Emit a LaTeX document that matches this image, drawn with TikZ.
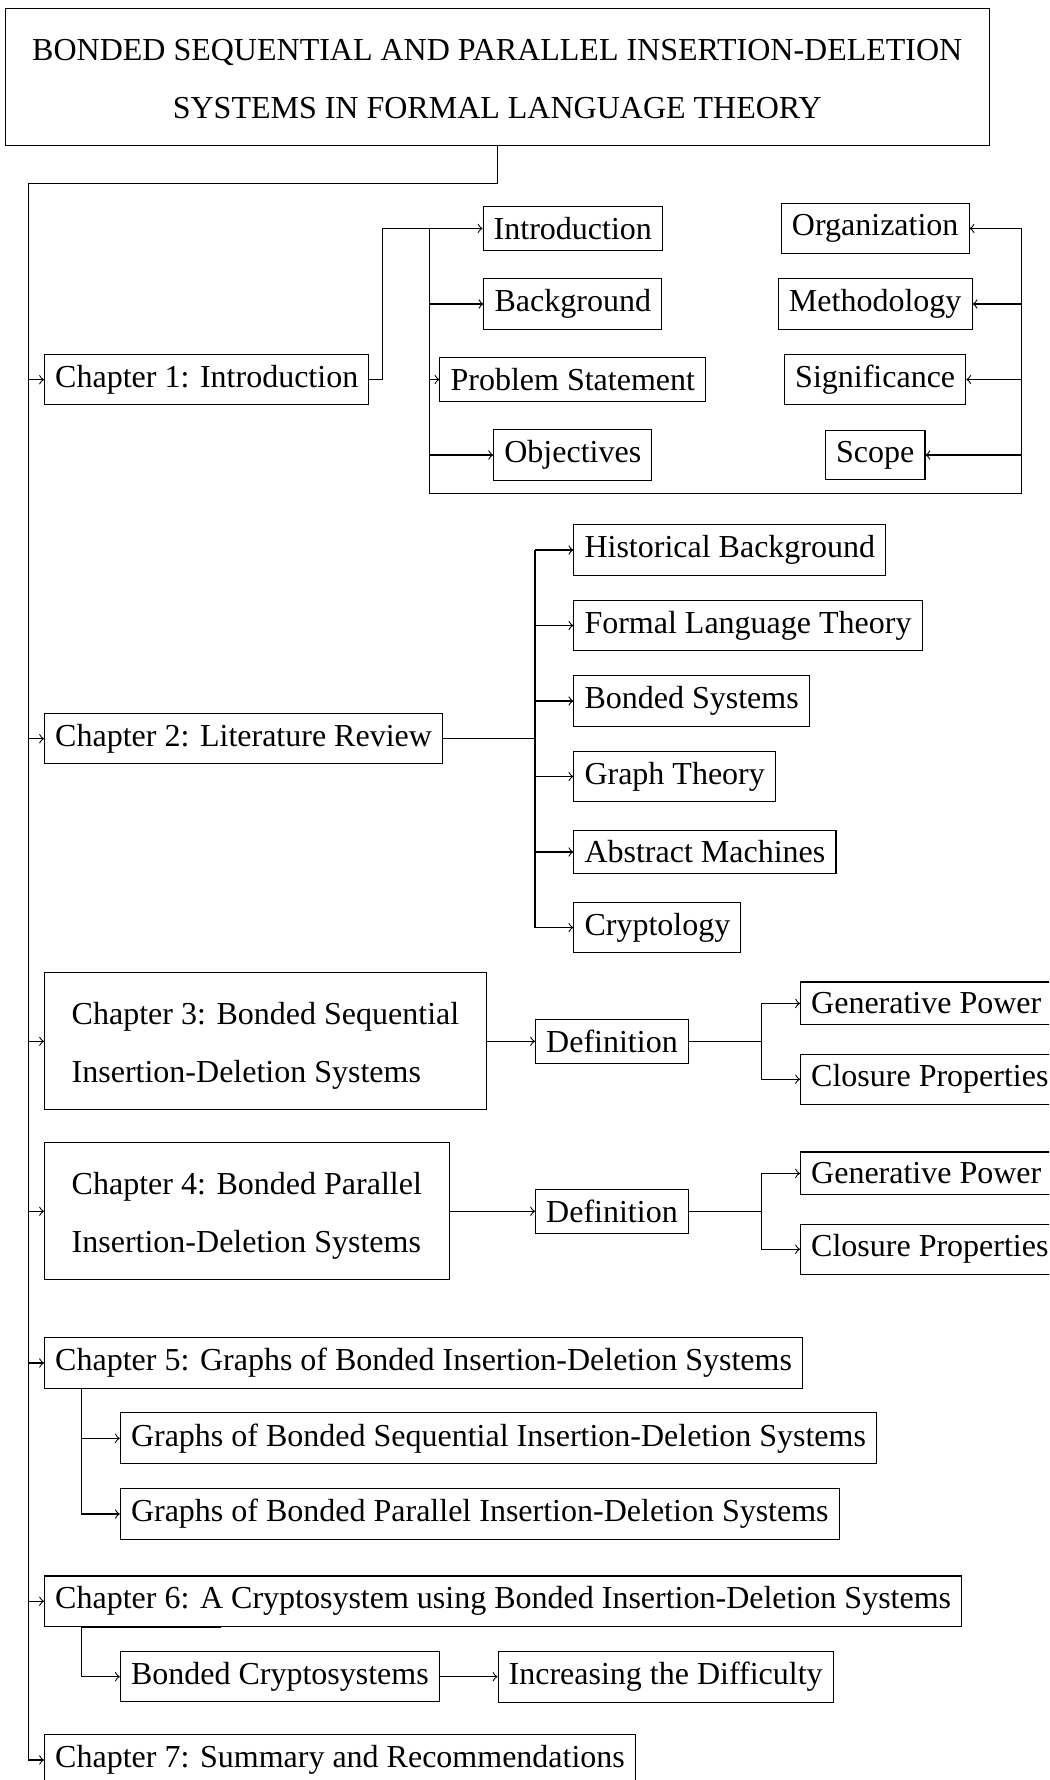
\documentclass[tikz,border=0pt]{standalone}
\usepackage{fontspec}
\setmainfont{Liberation Serif}
\begin{document}
\begin{tikzpicture}[x=0.375pt, y=-0.375pt,
  every node/.style={font=\fontsize{12}{14.4}\selectfont},
  box/.style={draw, line width=0.4pt, inner sep=4pt},
  bigbox/.style={draw, line width=0.4pt, inner xsep=10.2pt, inner ysep=4pt, text height=15.5pt, text depth=27.85pt},
  conn/.style={line width=0.4pt},
  arr/.style={conn, ->}]
\useasboundingbox (0,0) rectangle (1049,1780);
\clip (0,0) rectangle (1049,1780);

% title
\node[bigbox] (title) at (497.3,77.3) {\begin{tabular}[t]{@{}c@{}}BONDED SEQUENTIAL AND PARALLEL INSERTION-DELETION\\[7.05pt]SYSTEMS IN FORMAL LANGUAGE THEORY\end{tabular}};

% chapters
\node[box, anchor=west] (ch1) at (44,379.7) {Chapter 1: Introduction};
\node[box, anchor=west] (ch2) at (44,738.7) {Chapter 2: Literature Review};
\node[bigbox, anchor=west] (ch3) at (44,1041.3) {\begin{tabular}[t]{@{}l@{}}Chapter 3: Bonded Sequential\\[7.05pt]Insertion-Deletion Systems\end{tabular}};
\node[bigbox, anchor=west] (ch4) at (44,1211.3) {\begin{tabular}[t]{@{}l@{}}Chapter 4: Bonded Parallel\\[7.05pt]Insertion-Deletion Systems\end{tabular}};
\node[box, anchor=west] (ch5) at (44,1363) {Chapter 5: Graphs of Bonded Insertion-Deletion Systems};
\node[box, anchor=west] (ch6) at (44,1601.2) {Chapter 6: A Cryptosystem using Bonded Insertion-Deletion Systems};
\node[box, anchor=west] (ch7) at (44,1760) {Chapter 7: Summary and Recommendations};

% chapter 1 children
\node[box] (intro) at (572.8,228.4) {Introduction};
\node[box] (back) at (572.8,304) {Background};
\node[box] (prob) at (572.8,379.5) {Problem Statement};
\node[box] (obj) at (572.8,455) {Objectives};
\node[box] (org) at (875.2,228.4) {Organization};
\node[box] (meth) at (875.2,304) {Methodology};
\node[box] (sig) at (875.2,379.5) {Significance};
\node[box] (scope) at (875.2,455) {Scope};

% chapter 2 children
\node[box, anchor=west] (hist) at (573.3,550) {Historical Background};
\node[box, anchor=west] (flt) at (573.3,625.5) {Formal Language Theory};
\node[box, anchor=west] (bsys) at (573.3,701) {Bonded Systems};
\node[box, anchor=west] (gth) at (573.3,776.5) {Graph Theory};
\node[box, anchor=west] (absm) at (573.3,852) {Abstract Machines};
\node[box, anchor=west] (cryp) at (573.3,927.5) {Cryptology};

% chapter 3 / 4 children
\node[box, anchor=west] (def3) at (535,1041.3) {Definition};
\node[box, anchor=west] (gp3) at (800,1003.4) {Generative Power};
\node[box, anchor=west] (cp3) at (800,1079.2) {Closure Properties};
\node[box, anchor=west] (def4) at (535,1211.3) {Definition};
\node[box, anchor=west] (gp4) at (800,1173.4) {Generative Power};
\node[box, anchor=west] (cp4) at (800,1249.2) {Closure Properties};

% chapter 5 / 6 children
\node[box, anchor=west] (s5a) at (119.8,1438.3) {Graphs of Bonded Sequential Insertion-Deletion Systems};
\node[box, anchor=west] (s5b) at (119.8,1514) {Graphs of Bonded Parallel Insertion-Deletion Systems};
\node[box, anchor=west] (bc) at (119.8,1676.7) {Bonded Cryptosystems};
\node[box, anchor=west] (inc) at (497.5,1676.7) {Increasing the Difficulty};

% helper coordinates
\coordinate (t0) at (28.3,183.3);
\coordinate (b1) at (382.3,0);
\coordinate (j1) at (429.5,0);
\coordinate (bl1) at (429.5,493.3);
\coordinate (br1) at (1021.7,493.3);
\coordinate (j2) at (535,0);
\coordinate (j3) at (761.7,0);
\coordinate (j5) at (81.5,0);
\coordinate (x5) at (141.6,0);
\coordinate (x6) at (221.2,0);

% trunk
\draw[arr] (title.south) |- (t0) |- (ch7.west);
\foreach \c in {ch1,ch2,ch3,ch4,ch5,ch6}
  \draw[arr] (t0 |- \c.west) -- (\c.west);

% chapter 1 tree
\draw[arr] (ch1.east) -- (b1 |- ch1.east) |- (intro.west);
\draw[conn] (j1 |- intro.west) -- (bl1) -- (br1) -- (br1 |- org.east);
\foreach \c in {back,prob,obj}
  \draw[arr] (j1 |- \c.west) -- (\c.west);
\foreach \c in {org,meth,sig,scope}
  \draw[arr] (br1 |- \c.east) -- (\c.east);

% chapter 2 tree
\draw[conn] (ch2.east) -- (j2 |- ch2.east);
\draw[conn] (j2 |- hist.west) -- (j2 |- cryp.west);
\foreach \c in {hist,flt,bsys,gth,absm,cryp}
  \draw[arr] (j2 |- \c.west) -- (\c.west);

% chapter 3 / 4 trees
\draw[arr] (ch3.east) -- (def3.west);
\draw[conn] (def3.east) -- (j3 |- def3.east);
\draw[arr] (j3 |- def3.east) |- (gp3.west);
\draw[arr] (j3 |- def3.east) |- (cp3.west);
\draw[arr] (ch4.east) -- (def4.west);
\draw[conn] (def4.east) -- (j3 |- def4.east);
\draw[arr] (j3 |- def4.east) |- (gp4.west);
\draw[arr] (j3 |- def4.east) |- (cp4.west);

% chapter 5 tree
\draw[arr] (x5 |- ch5.south) -- (j5 |- ch5.south) |- (s5a.west);
\draw[arr] (j5 |- ch5.south) |- (s5b.west);

% chapter 6 tree
\draw[arr] (x6 |- ch6.south) -- (j5 |- ch6.south) |- (bc.west);
\draw[arr] (bc.east) -- (inc.west);
\end{tikzpicture}
\end{document}
